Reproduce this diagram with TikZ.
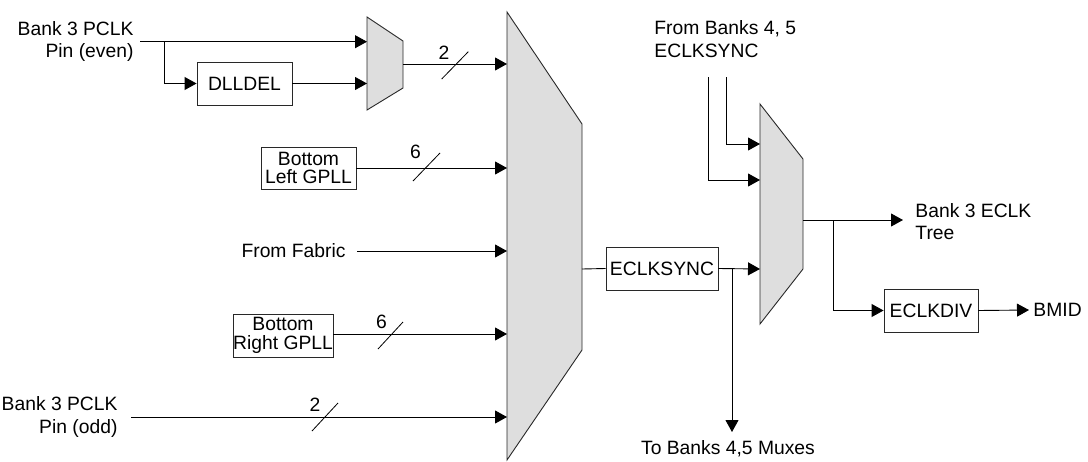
\documentclass[tikz,border=0pt]{standalone}
\usepackage{fontspec}
\setmainfont{Liberation Sans}
\usetikzlibrary{arrows.meta}
\definecolor{muxgray}{RGB}{222,222,222}
\definecolor{edge}{RGB}{40,40,40}
\begin{document}
\begin{tikzpicture}[x=1pt,y=-1pt, line width=0.9pt,
  every node/.style={font=\fontsize{19.3}{22.5}\selectfont, inner sep=0pt},
  blk/.style={draw=edge, minimum height=43pt, align=center, font=\fontsize{19.3}{18.5}\selectfont},
  mux/.style={draw=edge, fill=muxgray},
  arr/.style={-{Triangle[length=12pt,width=13pt]}},
  lbl/.style={font=\fontsize{19.3}{22.5}\selectfont},
  slash/.style={line width=0.8pt}]
\useasboundingbox (0,0) rectangle (1088,461);

% muxes
\draw[mux] (367,17) -- (403,41) -- (403,88) -- (367,110) -- cycle;
\draw[mux] (507,12) -- (582,124) -- (582,350) -- (507,460) -- cycle;
\draw[mux] (760,104) -- (803,159) -- (803,269) -- (760,324) -- cycle;

% mux ports
\coordinate (sin1) at (367,41.7);
\coordinate (sin2) at (367,83.5);
\coordinate (sout) at (403,64);
\coordinate (bin1) at (507,64);
\coordinate (bin2) at (507,168);
\coordinate (bin3) at (507,251);
\coordinate (bin4) at (507,334);
\coordinate (bin5) at (507,417);
\coordinate (bout) at (582,269);
\coordinate (rin1) at (760,144);
\coordinate (rin2) at (760,180);
\coordinate (rin3) at (760,269);
\coordinate (rout) at (803,220);

% boxes
\node[blk, minimum width=95pt] (dll) at (244.5,83.5) {DLLDEL};
\node[blk, minimum width=95pt, minimum height=42pt] (blg) at (308.5,168) {Bottom\\Left GPLL};
\node[blk, minimum width=100pt] (brg) at (283,335.5) {Bottom\\Right GPLL};
\node[blk, minimum width=112pt] (sync) at (662,268.5) {ECLKSYNC};
\node[blk, minimum width=94pt] (div) at (931,310.5) {ECLKDIV};

% labels
\node[lbl, align=right, anchor=east] (even) at (134,41.5) {Bank 3 PCLK\\Pin (even)};
\node[lbl, align=right, anchor=east] (odd) at (118,417) {Bank 3 PCLK\\Pin (odd)};
\node[lbl, anchor=east] (fab) at (346,251) {From Fabric};
\node[lbl, align=left, anchor=west] (fb45) at (654,39) {From Banks 4, 5\\ECLKSYNC};
\node[lbl, align=left, anchor=west] (tree) at (915,221.5) {Bank 3 ECLK\\Tree};
\node[lbl, anchor=west] (bmid) at (1033,310) {BMID};
\node[lbl] (tob) at (728,449) {To Banks 4,5 Muxes};

% free ends
\coordinate (evs) at (140,41.7);
\coordinate (br1) at (164,41.7);
\coordinate (ods) at (131,417);
\coordinate (fas) at (357,251);
\coordinate (br2) at (732,269);
\coordinate (tobe) at (732,432);
\coordinate (fa) at (726,77);
\coordinate (fb) at (708,77);
\coordinate (treee) at (903,220);
\coordinate (br3) at (833,220);
\coordinate (bmide) at (1029,310);

% connectors
\draw[arr] (evs) -- (sin1);
\draw[arr] (br1) |- (dll.west);
\draw[arr] (dll.east) -- (sin2);
\draw[arr] (sout) -- (bin1);
\draw[arr] (blg.east) -- (bin2);
\draw[arr] (fas) -- (bin3);
\draw[arr] (brg.east |- bin4) -- (bin4);
\draw[arr] (ods) -- (bin5);
\draw (bout) -- (sync.west);
\draw[arr] (sync.east) -- (rin3);
\draw[arr] (br2) -- (tobe);
\draw[arr] (fa) |- (rin1);
\draw[arr] (fb) |- (rin2);
\draw[arr] (rout) -- (treee);
\draw[arr] (br3) |- (div.west);
\draw[arr] (div.east) -- (bmide);

% bus slashes
\draw[slash] (441.7,79) -- (468.3,51.7);
\node (w1) at (444,53) {2};
\draw[slash] (413,181) -- (440,153);
\node (w2) at (415.5,152) {6};
\draw[slash] (378,349) -- (403,322);
\node (w3) at (381.5,321.5) {6};
\draw[slash] (312,431) -- (338,403);
\node (w4) at (315,405) {2};
\end{tikzpicture}
\end{document}
